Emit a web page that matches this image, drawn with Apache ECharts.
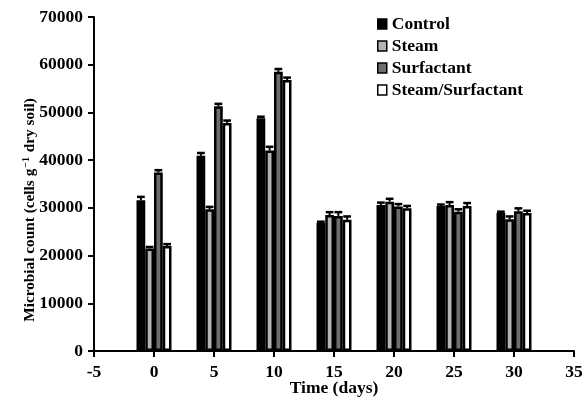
<!DOCTYPE html>
<html><head><meta charset="utf-8">
<script src="https://cdn.jsdelivr.net/npm/echarts@6/dist/echarts.min.js"></script>
<style>html,body{margin:0;padding:0;background:#fff}#c{width:586px;height:402px}</style>
</head><body><div id="c"></div>
<script>
var days = [0, 5, 10, 15, 20, 25, 30];
var seriesNames = ['Control', 'Steam', 'Surfactant', 'Steam/Surfactant'];
var control = [31600, 40900, 48800, 26900, 30600, 30400, 29000];
var controlErr = [700, 600, 300, 200, 500, 300, 200];
var steam = [21500, 29700, 42000, 28500, 31300, 30600, 27600];
var steamErr = [300, 500, 800, 600, 600, 600, 600];
var surfactant = [37400, 51300, 58500, 28300, 30300, 29200, 29300];
var surfactantErr = [500, 500, 600, 800, 500, 500, 600];
var steamSurf = [22000, 47800, 56800, 27500, 29900, 30400, 28900];
var steamSurfErr = [400, 500, 500, 700, 500, 600, 500];
var xTicks = [-5, 0, 5, 10, 15, 20, 25, 30, 35];
var yTicks = [0, 10000, 20000, 30000, 40000, 50000, 60000, 70000];

var values = [control, steam, surfactant, steamSurf];
var errs = [controlErr, steamErr, surfactantErr, steamSurfErr];
var fills = ['#000000', '#b4b4b4', '#6e6e6e', '#ffffff'];
var BW = 8.75;

var series = [];
values.forEach(function (vals, i) {
  series.push({
    name: seriesNames[i], type: 'bar', barWidth: BW, barGap: '0%',
    itemStyle: { color: fills[i], borderColor: '#000', borderWidth: 2.5 },
    data: days.map(function (d, k) { return [d, vals[k]]; }),
    z: 2
  });
});
values.forEach(function (vals, i) {
  series.push({
    type: 'custom', silent: true, z: 3,
    data: days.map(function (d, k) { return [d, vals[k], vals[k] + errs[i][k]]; }),
    renderItem: function (params, api) {
      var p0 = api.coord([api.value(0), api.value(1)]);
      var p1 = api.coord([api.value(0), api.value(2)]);
      var x = p0[0] + (i - 1.5) * BW;
      var half = BW / 2 - 0.5;
      return { type: 'group', children: [
        { type: 'line', shape: { x1: x, y1: p0[1], x2: x, y2: p1[1] }, style: { stroke: '#000', lineWidth: 2 } },
        { type: 'line', shape: { x1: x - half, y1: p1[1], x2: x + half, y2: p1[1] }, style: { stroke: '#000', lineWidth: 2.5 } }
      ]};
    }
  });
});

var font = 'Liberation Serif';
var FS = 17.5;
var chart = echarts.init(document.getElementById('c'));
chart.setOption({
  animation: false,
  backgroundColor: '#fff',
  grid: { left: 94, right: 12, top: 17, bottom: 51, containLabel: false, outerBoundsMode: 'none' },
  legend: {
    orient: 'vertical', left: 372, top: 10, itemWidth: 9, itemHeight: 10, itemGap: 4,
    icon: 'rect',
    textStyle: { fontFamily: font, fontSize: FS, fontWeight: 'bold', color: '#000', padding: [0, 0, 0, 0] },
    data: seriesNames.map(function (n, i) {
      return { name: n, itemStyle: { color: fills[i], borderColor: '#000', borderWidth: 1.5 } };
    })
  },
  xAxis: {
    type: 'value', min: -5, max: 35, interval: 5,
    name: 'Time (days)', nameLocation: 'middle', nameGap: 28, nameMoveOverlap: false,
    nameTextStyle: { fontFamily: font, fontSize: FS, fontWeight: 'bold', color: '#000', verticalAlign: 'top' },
    axisLine: { lineStyle: { color: '#000', width: 2 } },
    axisTick: { show: true, length: 6, lineStyle: { color: '#000', width: 2 } },
    axisLabel: { fontFamily: font, fontSize: FS, fontWeight: 'bold', color: '#000', margin: 12,
      formatter: function (v) { return xTicks.indexOf(v) >= 0 ? String(v) : ''; } },
    splitLine: { show: false }
  },
  yAxis: {
    type: 'value', min: 0, max: 70000, interval: 10000,
    name: '{a|Microbial count (cells g}{s|\u22121}{a| dry soil)}', nameLocation: 'middle', nameGap: 55, nameMoveOverlap: false,
    nameTextStyle: { padding: [0, 52, 0, 0], rich: {
      a: { fontFamily: font, fontSize: 15.3, fontWeight: 'bold', color: '#000' },
      s: { fontFamily: font, fontSize: 10, fontWeight: 'bold', color: '#000', verticalAlign: 'top', padding: [0, 1, 8, 1] }
    } },
    axisLine: { show: true, onZero: false, lineStyle: { color: '#000', width: 2 } },
    axisTick: { show: true, length: 6, lineStyle: { color: '#000', width: 2 } },
    axisLabel: { fontFamily: font, fontSize: FS, fontWeight: 'bold', color: '#000', margin: 11,
      formatter: function (v) { return yTicks.indexOf(v) >= 0 ? String(v) : ''; } },
    splitLine: { show: false }
  },
  series: series
});
</script></body></html>
